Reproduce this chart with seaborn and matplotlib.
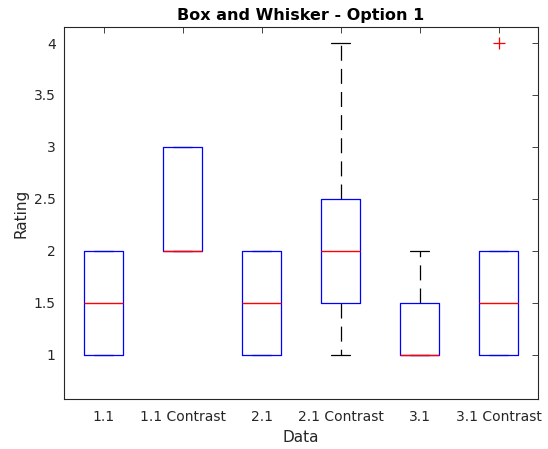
import matplotlib
matplotlib.use("Agg")
import matplotlib.pyplot as plt
import seaborn as sns
import pandas as pd

# Ratings per condition
categories = ["1.1", "1.1 Contrast", "2.1", "2.1 Contrast", "3.1", "3.1 Contrast"]
r_11 = [1, 1, 2, 2]
r_11c = [2, 2, 2, 3, 3]
r_21 = [1, 1, 2, 2]
r_21c = [1, 1, 2, 2, 2, 3, 4]
r_31 = [1, 1, 1, 1, 1, 2, 2]
r_31c = [1, 1, 1, 2, 2, 4]
y_ticks = [1, 1.5, 2, 2.5, 3, 3.5, 4]
y_tick_labels = ["1", "1.5", "2", "2.5", "3", "3.5", "4"]

series = [r_11, r_11c, r_21, r_21c, r_31, r_31c]
df = pd.DataFrame({
    "Data": [c for c, vals in zip(categories, series) for _ in vals],
    "Rating": [v for vals in series for v in vals],
})

sns.set_style("white")
plt.rcParams["font.family"] = ["DejaVu Sans"]

fig = plt.figure(figsize=(5.48, 4.49), dpi=100)
ax = fig.add_axes([0.1168, 0.1114, 0.8650, 0.8285])

sns.boxplot(
    data=df, x="Data", y="Rating", order=categories,
    fill=False, width=0.5, whis=1.5, linewidth=0.9, ax=ax,
)

# Classic styling: blue boxes, red medians, dashed black whiskers, red "+" outliers
for cont in ax.containers:
    for b in cont.boxes:
        if hasattr(b, "set_edgecolor"):
            b.set_edgecolor("#0000ff")
            b.set_facecolor("none")
        else:
            b.set_color("#0000ff")
        b.set_linewidth(0.9)
        b.set_zorder(3)
    for m in cont.medians:
        m.set_color("#ff0000")
        m.set_linewidth(1.0)
        m.set_zorder(4)
    for w in cont.whiskers:
        w.set_color("black")
        w.set_linewidth(0.9)
        w.set_linestyle((0, (12, 6.5)))
        w.set_zorder(2)
    for c in cont.caps:
        c.set_color("black")
        c.set_linewidth(0.9)
        c.set_zorder(2)
    for f in cont.fliers:
        f.set_marker("+")
        f.set_markeredgecolor("#ff0000")
        f.set_markerfacecolor("none")
        f.set_markersize(8)
        f.set_markeredgewidth(0.9)
        f.set_zorder(4)

ax.set_xlim(-0.5, 5.5)
ax.set_ylim(0.577, 4.154)
ax.set_yticks(y_ticks)
ax.set_yticklabels(y_tick_labels)

tick_color = "#262626"
ax.tick_params(axis="both", direction="in", length=4, width=0.6,
               colors=tick_color, labelsize=10, top=True, right=True,
               labelcolor=tick_color)
ax.tick_params(axis="x", pad=8)
ax.tick_params(axis="y", pad=6)
for sp in ax.spines.values():
    sp.set_visible(True)
    sp.set_color(tick_color)
    sp.set_linewidth(0.8)

ax.set_xlabel("Data", fontsize=11, color=tick_color, labelpad=4)
ax.set_ylabel("Rating", fontsize=11, color=tick_color, labelpad=4)
ax.set_title("Box and Whisker - Option 1", fontsize=11.5, fontweight="bold",
             color="black", pad=5)

fig.savefig("out.png", dpi=100, facecolor="white")
